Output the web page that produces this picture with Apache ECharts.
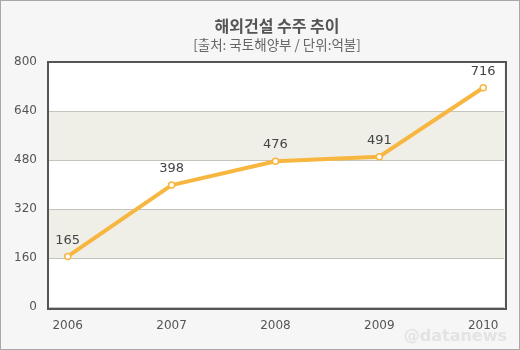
<!DOCTYPE html>
<html><head><meta charset="utf-8">
<script src="https://cdn.jsdelivr.net/npm/echarts@6/dist/echarts.min.js"></script>
<style>html,body{margin:0;padding:0;background:#f6f6f6}#c{width:520px;height:350px;box-sizing:border-box;border:1px solid #a8a8a8}</style>
</head><body><div id="c"></div>
<script>
var years = [2006, 2007, 2008, 2009, 2010];
var values = [165, 398, 476, 491, 716];
var yTicks = [0, 160, 320, 480, 640, 800];
var titleText = '해외건설 수주 추이';
var subText = '[출처: 국토해양부 / 단위:억불]';

var chart = echarts.init(document.getElementById('c'));
var font = '"Noto Sans CJK KR", "DejaVu Sans", sans-serif';
chart.setOption({
  backgroundColor: '#f6f6f6',
  animation: false,
  grid: {left: 47, right: 15, top: 61, bottom: 42, show: true, backgroundColor: '#fff', borderColor: '#555', borderWidth: 0},
  xAxis: {
    type: 'value', min: 2005.81, max: 2010.2,
    axisLine: {show: false}, axisTick: {show: false}, splitLine: {show: false},
    axisLabel: {customValues: years, color: '#555', fontSize: 12, fontFamily: 'DejaVu Sans', margin: 13, formatter: function(v){return String(v);}}
  },
  yAxis: {
    type: 'value', min: yTicks[0], max: yTicks[yTicks.length-1], interval: 160,
    axisLine: {show: false}, axisTick: {show: false},
    axisLabel: {color: '#555', fontSize: 12, fontFamily: 'DejaVu Sans', margin: 11},
    splitLine: {show: true, lineStyle: {color: '#c4c4bc', width: 1}},
    splitArea: {show: true, areaStyle: {color: ['#ffffff', '#efefe8']}}
  },
  series: [{
    type: 'line', z: 5,
    data: years.map(function(y, i){ return [y, values[i]]; }),
    lineStyle: {color: '#f7b640', width: 4},
    itemStyle: {color: '#fff', borderColor: '#f7b640', borderWidth: 1.5},
    symbol: 'circle', symbolSize: 6, showAllSymbol: true,
    label: {show: true, position: 'top', distance: 6, color: '#444', fontSize: 13, fontFamily: 'DejaVu Sans', formatter: function(p){return p.value[1];}}
  }],
  graphic: [
    {type: 'text', x: 276, y: 25, z: 10, style: {text: titleText, textAlign: 'center', textVerticalAlign: 'middle', fontSize: 16, fontWeight: 'bold', fontFamily: font, fill: '#555'}},
    {type: 'text', x: 276, y: 44, z: 10, style: {text: subText, textAlign: 'center', textVerticalAlign: 'middle', fontSize: 13.5, fontFamily: font, fill: '#666'}},
    {type: 'rect', z: 20, silent: true, shape: {x: 47, y: 61, width: 458, height: 247}, style: {fill: 'none', stroke: '#555', lineWidth: 2}},
    {type: 'text', right: 12, bottom: 4, z: 1, style: {text: '@datanews', fontSize: 16, fontWeight: 'bold', fontFamily: 'DejaVu Sans', fill: 'rgba(205,205,205,0.45)'}}
  ]
});
</script></body></html>
